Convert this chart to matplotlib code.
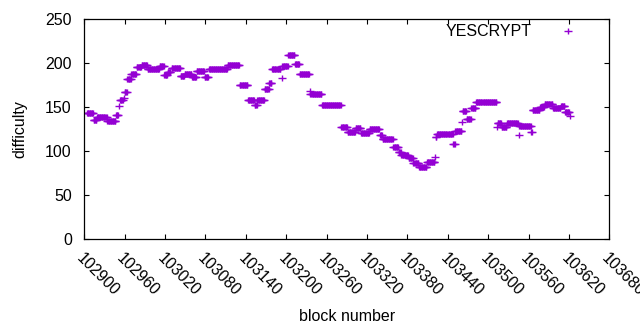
import numpy as np
import matplotlib
matplotlib.use("Agg")
import matplotlib.pyplot as plt
from matplotlib.path import Path

# Runs of constant difficulty: (first block, last block, value)
run_first = [102904, 102914, 102919, 102934, 102947, 102951, 102953, 102959, 102960, 102964,
             102970, 102978, 102985, 102994, 103012, 103019, 103024, 103030, 103043, 103049,
             103060, 103067, 103079, 103085, 103105, 103113, 103131, 103143, 103153, 103157,
             103168, 103175, 103179, 103193, 103194, 103203, 103213, 103220, 103235, 103236,
             103253, 103282, 103291, 103303, 103311, 103324, 103339, 103343, 103359, 103367,
             103371, 103382, 103389, 103397, 103409, 103421, 103422, 103424, 103448, 103451,
             103461, 103462, 103468, 103475, 103482, 103513, 103514, 103520, 103528, 103545,
             103546, 103564, 103566, 103577, 103584, 103596, 103608, 103614, 103621]
run_last = [102913, 102918, 102933, 102946, 102950, 102951, 102957, 102959, 102963, 102969,
            102977, 102984, 102993, 103011, 103018, 103023, 103028, 103042, 103048, 103059,
            103066, 103078, 103084, 103104, 103112, 103130, 103142, 103152, 103156, 103167,
            103174, 103178, 103191, 103193, 103202, 103212, 103219, 103234, 103235, 103252,
            103281, 103290, 103302, 103310, 103323, 103338, 103342, 103358, 103366, 103370,
            103381, 103388, 103396, 103408, 103420, 103421, 103423, 103447, 103450, 103460,
            103461, 103467, 103474, 103481, 103512, 103513, 103519, 103527, 103544, 103545,
            103563, 103565, 103576, 103583, 103595, 103607, 103613, 103620, 103621]
run_value = [144, 136, 139, 134, 141, 151, 158, 161, 167, 182,
             188, 196, 198, 193.5, 197.5, 187, 190, 195, 186, 188,
             185, 191, 184.5, 193, 194, 197.7, 175, 158, 152.5, 158.3,
             170.8, 178, 193.5, 183, 197, 209.5, 199, 187.5, 168.5, 165,
             152.3, 128, 121.5, 126, 120.5, 125, 118, 113.6, 105, 99,
             95.8, 92, 87, 82.5, 88.2, 94, 116, 119.3, 108.5, 123.4,
             133.7, 145.4, 136.5, 149, 155.7, 128, 132.5, 128, 131.8, 119,
             128.4, 122, 147, 150, 153.7, 148.8, 151.8, 144.3, 140.5]

x_ticks = list(range(102900, 103681, 60))
y_ticks = [0, 50, 100, 150, 200, 250]

blocks = []
diffs = []
for a, b, v in zip(run_first, run_last, run_value):
    for blk in range(a, b + 1):
        blocks.append(blk)
        diffs.append(v)

plt.rcParams['font.family'] = ['Liberation Sans', 'DejaVu Sans']
color = '#9400D3'
fs = 11.5

fig = plt.figure(figsize=(6.4, 3.3), dpi=100)
ax = fig.add_axes([84.3/640, 1 - 239.3/330, (609.4-84.3)/640, (239.3-19.3)/330])

plus = Path([(-1, 0), (1, 0), (0, -0.76), (0, 0.76)],
            [Path.MOVETO, Path.LINETO, Path.MOVETO, Path.LINETO])

ax.plot(blocks, diffs, linestyle='none', marker=plus, markersize=5.8,
        markeredgewidth=1.0, color=color, label='YESCRYPT')

ax.set_xlim(102900, 103680)
ax.set_ylim(0, 250)
ax.set_xticks(x_ticks)
ax.set_yticks(y_ticks)
ax.set_xticklabels([str(t) for t in x_ticks], rotation=-45, ha='left', va='top',
                   rotation_mode='anchor')
ax.tick_params(axis='both', direction='in', length=3.5, width=0.8, top=True, right=True,
               labelsize=fs, colors='black')
ax.tick_params(axis='x', pad=8)
ax.tick_params(axis='y', pad=9)
for s in ax.spines.values():
    s.set_linewidth(0.9)

ax.set_xlabel('block number', fontsize=fs, labelpad=7)
ax.set_ylabel('difficulty', fontsize=fs, labelpad=13)

leg = ax.legend(loc='center right', frameon=False, markerfirst=False, numpoints=1,
                fontsize=fs, handlelength=2.0, handletextpad=1.25,
                bbox_to_anchor=(0.951, 0.944), borderaxespad=0, borderpad=0)

fig.savefig('out.png', dpi=100)
